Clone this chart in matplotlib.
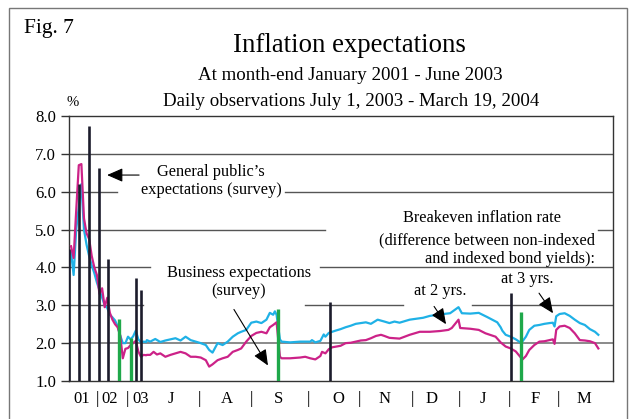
import numpy as np
import matplotlib.pyplot as plt
from matplotlib.patches import Rectangle

plt.rcParams["font.family"] = ["Liberation Serif", "DejaVu Serif"]

# month-end observations Jan 2001 - Jun 2003 (index 0 = Jan 2001)
months = np.arange(30)
be2_month = [4.40, 3.80, 5.00, 5.60, 6.20, 5.00, 4.60, 4.30, 4.05, 3.85,
             3.60, 3.40, 3.20, 3.00, 2.93, 2.75, 2.68, 2.60, 2.45, 2.20,
             2.00, 2.00, 2.17, 2.10, 2.18, 2.33, 2.10, 2.02, 2.04, 2.03]
be3_month = [4.56, 4.25, 5.50, 6.70, 6.73, 5.30, 4.90, 4.75, 4.30, 4.00,
             3.80, 3.30, 3.45, 2.95, 3.20, 2.80, 2.62, 2.50, 2.42, 2.20,
             1.60, 1.85, 1.87, 1.95, 2.00, 2.06, 1.78, 1.64, 1.69, 1.68]

# daily observations, day 0 = July 1, 2003
be2_days = [0, 2, 5, 8, 11, 14, 17, 20, 23, 26, 29, 32, 35, 37, 39, 42, 45, 48,
            51, 54, 56, 59, 62, 65, 68, 71, 73, 75, 76, 77, 79, 80, 85, 91, 97,
            98, 100, 103, 105, 106, 108, 110, 112, 115, 118, 121, 124, 127, 130,
            133, 137, 141, 144, 147, 150, 156, 164, 168, 174, 180, 185, 187, 192,
            197, 202, 208, 210, 211, 213, 216, 219, 222, 223, 225, 227, 230, 233,
            236, 239, 241, 242, 243, 245, 248, 251, 254, 257, 260, 263, 266, 268]
be2_daily = [2.08, 2.04, 2.11, 2.03, 2.07, 2.10, 2.13, 2.07, 2.17, 2.08, 2.04,
             2.00, 1.95, 1.82, 1.75, 2.00, 1.95, 2.04, 2.17, 2.26, 2.30, 2.35,
             2.54, 2.57, 2.53, 2.62, 2.80, 2.75, 2.84, 2.75, 2.10, 2.04, 2.02,
             2.04, 2.04, 2.08, 2.02, 2.06, 2.23, 2.17, 2.27, 2.30, 2.33, 2.37,
             2.42, 2.46, 2.51, 2.53, 2.55, 2.51, 2.62, 2.57, 2.53, 2.57, 2.54,
             2.62, 2.67, 2.72, 2.76, 2.79, 2.95, 2.79, 2.78, 2.80, 2.69, 2.55,
             2.42, 2.33, 2.22, 2.17, 2.10, 2.01, 2.05, 2.17, 2.35, 2.46, 2.48,
             2.51, 2.53, 2.54, 2.44, 2.71, 2.77, 2.79, 2.72, 2.62, 2.53, 2.48,
             2.37, 2.30, 2.22]
be3_days = [0, 2, 4, 6, 8, 11, 14, 17, 20, 23, 26, 29, 32, 35, 37, 39, 42, 45,
            48, 51, 54, 56, 59, 62, 65, 68, 71, 73, 75, 77, 79, 80, 85, 91, 94,
            97, 100, 103, 104, 106, 108, 110, 115, 118, 121, 124, 127, 130, 133,
            136, 139, 141, 144, 147, 150, 156, 162, 168, 174, 179, 181, 185, 186,
            192, 197, 201, 207, 210, 213, 216, 219, 222, 223, 225, 227, 230, 233,
            236, 239, 241, 242, 243, 245, 248, 251, 254, 257, 260, 263, 266, 268]
be3_daily = [1.69, 1.69, 1.77, 1.70, 1.73, 1.64, 1.69, 1.73, 1.77, 1.73, 1.64,
             1.64, 1.62, 1.55, 1.38, 1.44, 1.55, 1.60, 1.64, 1.77, 1.82, 1.86,
             2.04, 2.19, 2.27, 2.30, 2.26, 2.42, 2.48, 2.55, 1.64, 1.60, 1.60,
             1.62, 1.64, 1.60, 1.57, 1.66, 1.77, 1.73, 1.84, 1.89, 1.93, 2.00,
             2.01, 2.04, 2.07, 2.08, 2.13, 2.19, 2.22, 2.19, 2.14, 2.13, 2.12,
             2.22, 2.30, 2.30, 2.32, 2.35, 2.40, 2.62, 2.40, 2.38, 2.35, 2.26,
             2.17, 2.02, 1.91, 1.86, 1.78, 1.62, 1.57, 1.66, 1.82, 1.95, 2.04,
             2.05, 2.08, 2.10, 1.98, 2.35, 2.44, 2.46, 2.40, 2.26, 2.08, 2.07,
             2.05, 2.00, 1.86]

# general public's expectations (survey)
public_month = [-0.6, 3.1, 6.8, 10.7, 14.3, 24.9, 27.1]
public_month_val = [4.50, 6.20, 7.74, 6.62, 4.22, 3.72, 3.41]
public_day = [109, 216]
public_day_val = [3.10, 3.32]

# business expectations (survey)
business_month = [18.7, 23.2]
business_month_val = [2.63, 2.13]
business_day = [78, 222]
business_day_val = [2.90, 2.83]

tick_labels = ["01", "|", "02", "|", "03", "J", "|", "A", "|", "S", "|", "O",
               "|", "N", "|", "D", "|", "J", "|", "F", "|", "M"]
tick_pos = [-38.5, -29.6, -22.1, -11.8, -3.4, 14.4, 31.0, 47.6, 61.8, 77.9,
            95.7, 113.5, 125.9, 140.8, 157.4, 168.7, 185.3, 199.6, 215.0,
            230.4, 244.1, 259.5]

CYAN = "#1fb1e6"
MAGENTA = "#cc2288"
GREEN = "#1fa84a"
DARK = "#1c1c2c"
GRID = "#555555"

# monthly part of the axis is compressed, daily part runs one unit per day
MONTH0 = -45.0
MONTH_W = 1.537


def month_pos(m):
    return MONTH0 + MONTH_W * np.asarray(m, dtype=float)


fig = plt.figure(figsize=(6.35, 4.19), dpi=100)
ax = fig.add_axes([68.5 / 635, 1 - 381 / 419, 544.5 / 635, 265 / 419])

# gridlines, broken where the notes sit
grid_segments = {
    7.0: [(0, 1)],
    6.0: [(0, 0.089), (0.398, 1)],
    5.0: [(0, 0.471), (0.972, 1)],
    4.0: [(0, 0.150), (0.462, 1)],
    3.0: [(0, 0.137), (0.434, 0.614), (0.741, 1)],
}
for yv, segs in grid_segments.items():
    for x0, x1 in segs:
        ax.axhline(yv, x0, x1, color=GRID, lw=1.0, zorder=1)
ax.axhline(2.0, color="#8a8a8a", lw=1.4, zorder=1)

x2 = np.concatenate([month_pos(months), be2_days])
y2 = np.concatenate([be2_month, be2_daily])
x3 = np.concatenate([month_pos(months), be3_days])
y3 = np.concatenate([be3_month, be3_daily])
ax.plot(x2, y2, color=CYAN, lw=1.6, zorder=3)
ax.plot(x3, y3, color=MAGENTA, lw=1.6, zorder=3)

pub_x = np.concatenate([month_pos(public_month), public_day])
pub_y = np.concatenate([public_month_val, public_day_val])
ax.vlines(pub_x, 1.0, pub_y, color=DARK, lw=1.9, zorder=4)
bus_x = np.concatenate([month_pos(business_month), business_day])
bus_y = np.concatenate([business_month_val, business_day_val])
ax.vlines(bus_x, 1.0, bus_y, color=GREEN, lw=2.4, zorder=4)

ax.set_xlim(-46.5, 276.7)
ax.set_ylim(1.0, 8.0)
ax.set_yticks(np.arange(1, 9))
ax.set_yticklabels([f"{v:.1f}" for v in np.arange(1, 9)])
ax.set_xticks(tick_pos)
ax.set_xticklabels(tick_labels)
ax.tick_params(axis="y", direction="out", length=6, width=1, color="#333333",
               labelsize=12, pad=3)
ax.tick_params(axis="x", length=0, labelsize=12, pad=7)
for s in ax.spines.values():
    s.set_color("#333333")
    s.set_linewidth(1.0)

# notes
NOTE = 11.8
arrow = dict(arrowstyle="-|>,head_length=0.8,head_width=0.35", color="black",
             lw=0.8, mutation_scale=12, shrinkA=0, shrinkB=0)
ax.text(38.1, 6.28, "General public\u2019s\nexpectations (survey)", ha="center",
        va="center", fontsize=NOTE)
ax.annotate("", xy=(-23.6, 6.44), xytext=(-4.6, 6.44), arrowprops=arrow)

ax.text(54.7, 3.61, "Business expectations\n(survey)", ha="center", va="center",
        fontsize=NOTE, linespacing=1.2)
ax.annotate("", xy=(71.9, 1.41), xytext=(51.7, 2.89), arrowprops=arrow)

ax.text(199.0, 5.30, "Breakeven inflation rate", ha="center", va="center",
        fontsize=NOTE)
ax.text(202.0, 4.72, "(difference between non-indexed", ha="center",
        va="center", fontsize=NOTE)
ax.text(266.0, 4.22, "and indexed bond yields):", ha="right", va="center",
        fontsize=NOTE)

ax.text(174.0, 3.37, "at 2 yrs.", ha="center", va="center", fontsize=NOTE)
ax.annotate("", xy=(177.6, 2.50), xytext=(170.5, 2.97), arrowprops=arrow)
ax.text(225.7, 3.69, "at 3 yrs.", ha="center", va="center", fontsize=NOTE)
ax.annotate("", xy=(241.1, 2.79), xytext=(232.8, 3.32), arrowprops=arrow)

# titles
fig.text(24 / 635, 1 - 29 / 419, "Fig. 7", ha="left", va="center",
         fontsize=15.5)
fig.text(349 / 635, 1 - 45 / 419, "Inflation expectations", ha="center",
         va="center", fontsize=19.3)
fig.text(350 / 635, 1 - 76 / 419, "At month-end January 2001 - June 2003",
         ha="center", va="center", fontsize=13.6)
fig.text(351 / 635, 1 - 101 / 419,
         "Daily observations July 1, 2003 - March 19, 2004",
         ha="center", va="center", fontsize=13.6)
fig.text(73 / 635, 1 - 102 / 419, "%", ha="center", va="center", fontsize=10.5)

fig.patches.append(Rectangle((9 / 635, -0.05), 618 / 635, 1.05 - 8 / 419,
                             transform=fig.transFigure, fill=False,
                             ec="#777777", lw=1.0))

fig.savefig("out.png", dpi=100)
